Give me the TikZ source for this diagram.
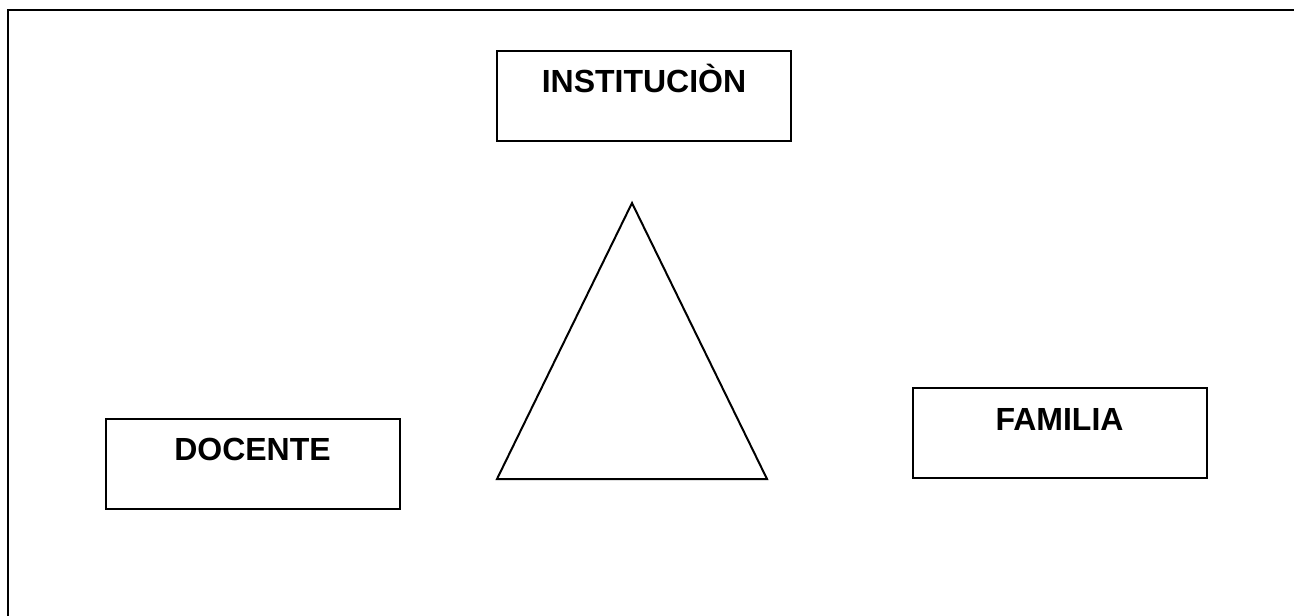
\documentclass[tikz,border=0pt]{standalone}
\usepackage{fontspec}
\setmainfont{Liberation Sans}
\usetikzlibrary{
	positioning,
	calc
}
\tikzset{
	actorbox/.style={draw,line width=2pt,inner sep=0pt,minimum width=294pt,
		text height=42pt,text depth=48pt,font=\fontsize{32}{38}\selectfont\bfseries}
}

\begin{document}
\begin{tikzpicture}[x=1pt,y=-1pt]
		\clip (0,0) rectangle (1294,616);
		\draw[line width=2.2pt] (8,10) rectangle (1320,640);
		\node[actorbox] (inst) at (644,95.5) {INSTITUCIÒN};
		\node[actorbox] (docente) at (252.5,463.5) {DOCENTE};
		\node[actorbox] (familia) at (1059.5,433) {FAMILIA};
		\coordinate (apex) at (632,203);
		\coordinate (baseL) at (497,479);
		\coordinate (baseR) at (767,479);
		\draw[line width=2pt,line join=miter] (apex) -- (baseL) -- (baseR) -- cycle;
	\end{tikzpicture}
\end{document}
